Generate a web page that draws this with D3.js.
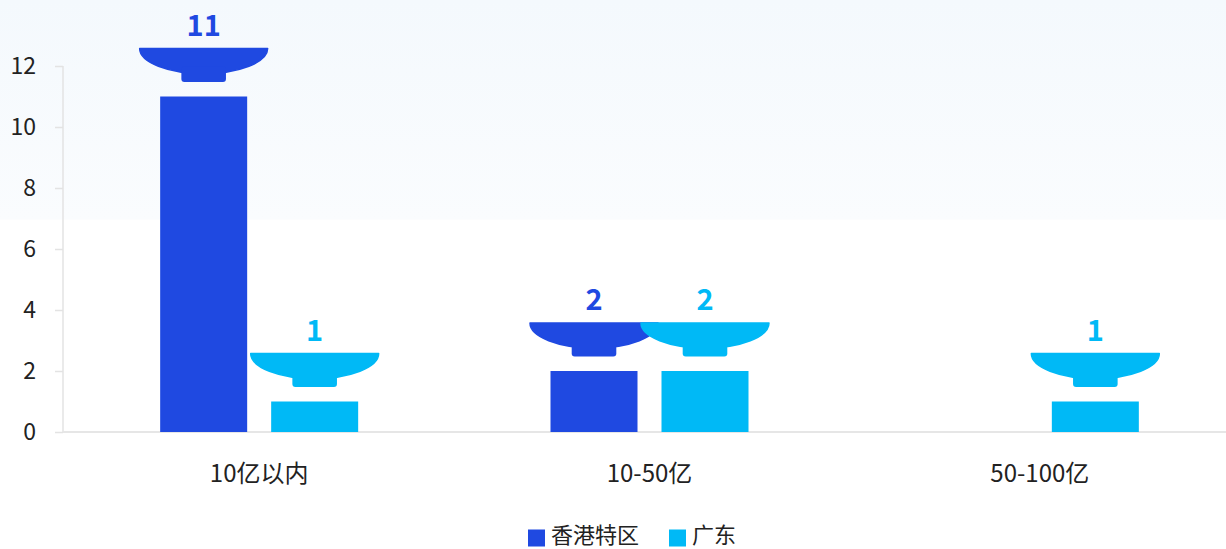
<!DOCTYPE html>
<html>
<head>
<meta charset="utf-8">
<script src="https://cdn.jsdelivr.net/npm/d3@7/dist/d3.min.js"></script>
<style>
  html, body { margin: 0; padding: 0; background: #ffffff; }
  svg { display: block; font-family: "Noto Sans CJK SC", "Noto Sans", sans-serif; }
</style>
</head>
<body>
<svg id="chart" width="1226" height="549"></svg>
<script>
// Project counts by investment size, per region
const categories = ["10亿以内", "10-50亿", "50-100亿"];
const seriesNames = ["香港特区", "广东"];
const hongKong = [11, 2, 0];
const guangdong = [1, 2, 1];
const yTicks = [0, 2, 4, 6, 8, 10, 12];
const colors = ["#1f49e1", "#00b9f6"];

const W = 1226, H = 549;
const svg = d3.select("#chart");

// soft tinted band across the top of the canvas
const defs = svg.append("defs");
const grad = defs.append("linearGradient").attr("id", "topTint")
  .attr("x1", 0).attr("y1", 0).attr("x2", 0).attr("y2", 1);
grad.append("stop").attr("offset", "0%").attr("stop-color", "#f4f9fd");
grad.append("stop").attr("offset", "100%").attr("stop-color", "#fafcfe");
svg.append("rect").attr("x", 0).attr("y", 0).attr("width", W).attr("height", H * 0.4)
  .attr("fill", "url(#topTint)");

const plot = { left: 64, right: 1235, top: 66, bottom: 432 };

const x = d3.scaleBand().domain(categories).range([plot.left, plot.right]);
const sub = d3.scaleBand().domain(seriesNames).range([-99, 99]).paddingInner(0.2162);
const y = d3.scaleLinear().domain([0, 12]).range([plot.bottom, plot.top]);

// y axis
const yAxis = svg.append("g").attr("transform", `translate(${plot.left - 1},0)`)
  .call(d3.axisLeft(y).tickValues(yTicks).tickSize(8).tickPadding(19));
yAxis.select(".domain").attr("stroke", "#e3e3e3").attr("stroke-width", 1.5)
  .attr("d", `M0,${plot.top}V${plot.bottom}`);
yAxis.selectAll(".tick line").attr("stroke", "#e3e3e3").attr("stroke-width", 1.5);
yAxis.selectAll(".tick text").attr("fill", "#222").style("font-size", "23px")
  .style("font-family", "'Noto Sans CJK SC', sans-serif");

// x axis
const xAxis = svg.append("g").attr("transform", `translate(0,${plot.bottom})`)
  .call(d3.axisBottom(x).tickSize(0).tickPadding(33));
xAxis.select(".domain").attr("stroke", "#e6e6e6").attr("stroke-width", 2)
  .attr("d", `M${plot.left - 1},0H${W}`);
xAxis.selectAll(".tick text").attr("fill", "#222").style("font-size", "24px")
  .style("font-family", "'Noto Sans CJK SC', sans-serif");

// flatten to one record per bar
const records = [];
categories.forEach((c, i) => {
  records.push({ cat: c, s: seriesNames[0], v: hongKong[i], color: colors[0] });
  records.push({ cat: c, s: seriesNames[1], v: guangdong[i], color: colors[1] });
});

const bars = svg.append("g");
bars.selectAll("rect").data(records.filter(d => d.v > 0)).join("rect")
  .attr("x", d => x(d.cat) + x.bandwidth() / 2 + sub(d.s))
  .attr("width", sub.bandwidth())
  .attr("y", d => y(d.v))
  .attr("height", d => y(0) - y(d.v))
  .attr("fill", d => d.color);

// bowl-shaped cap and value label above every bar
const bowlHalf = 64, bowlDepth = 25, footHalf = 22.3, footTop = 18, footBottom = 33.4, gap = 14.5;
const caps = svg.append("g");
const capG = caps.selectAll("g").data(records.filter(d => d.v > 0)).join("g")
  .attr("transform", d => {
    const cx = x(d.cat) + x.bandwidth() / 2 + sub(d.s) + sub.bandwidth() / 2;
    const top = y(d.v) - gap - footBottom;
    return `translate(${cx},${top})`;
  });
capG.append("path")
  .attr("d", `M${-bowlHalf},0H${bowlHalf}A${bowlHalf},${bowlDepth} 0 0 1 ${-bowlHalf},0Z`)
  .attr("fill", d => d.color).attr("stroke", d => d.color)
  .attr("stroke-width", 1.5).attr("stroke-linejoin", "round");
capG.append("rect")
  .attr("x", -footHalf).attr("y", footTop)
  .attr("width", footHalf * 2).attr("height", footBottom - footTop)
  .attr("rx", 3).attr("fill", d => d.color);
capG.append("text")
  .attr("x", 0).attr("y", -13)
  .attr("text-anchor", "middle")
  .attr("fill", d => d.color)
  .style("font-size", "29px").style("font-weight", "bold")
  .text(d => d.v);

// legend
const legend = svg.append("g");
const legendItems = [
  { name: seriesNames[0], color: colors[0], x: 528 },
  { name: seriesNames[1], color: colors[1], x: 669 }
];
const li = legend.selectAll("g").data(legendItems).join("g")
  .attr("transform", d => `translate(${d.x},529.5)`);
li.append("rect").attr("width", 17).attr("height", 17).attr("fill", d => d.color);
li.append("text").attr("x", 23).attr("y", 13.5)
  .attr("fill", "#222").style("font-size", "22px").text(d => d.name);
</script>
</body>
</html>
